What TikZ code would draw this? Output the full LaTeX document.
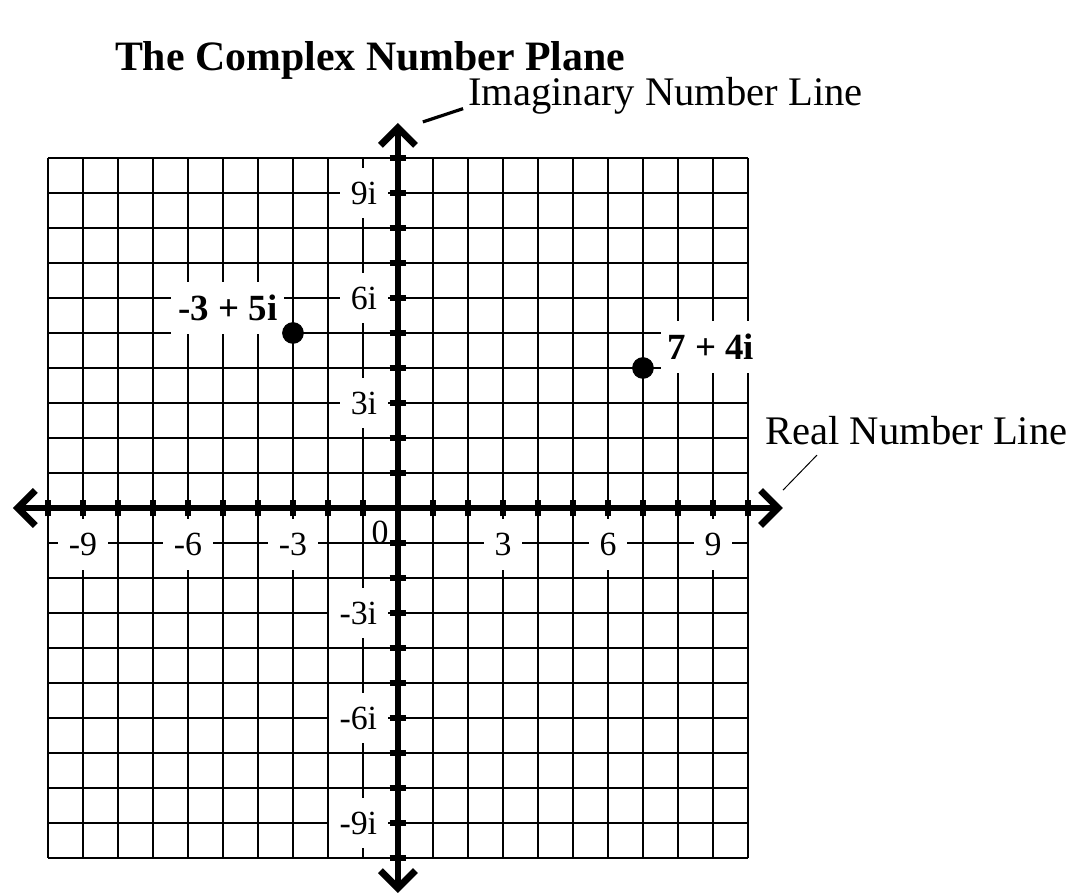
\documentclass[tikz,border=0pt]{standalone}
\usepackage{fontspec}
\setmainfont{Liberation Serif}
\usetikzlibrary{arrows.meta,positioning}

\begin{document}
\begin{tikzpicture}[
    gridline/.style={line width=1.1pt},
    barb/.tip={Straight Barb[length=5mm,width=10mm,line cap=butt,line join=miter]},
    axisline/.style={line width=5.6pt, barb-barb},
    tickmark/.style={line width=4.8pt},
    ticklabel/.style={fill=white, inner xsep=0.3cm, minimum height=1.45cm, font=\fontsize{27.5}{30}\selectfont},
    ptlabel/.style={fill=white, inner xsep=0.2cm, minimum height=1.5cm, font=\fontsize{30}{34}\selectfont\bfseries},
    axislabel/.style={inner sep=0pt, font=\fontsize{33}{38}\selectfont},
    dot/.style={fill=black, circle, inner sep=0pt, minimum size=0.62cm}
]
    \useasboundingbox (-11.371,-11.057) rectangle (19.486,14.514);

    % Title
    \node[anchor=base west, inner sep=0pt, font=\fontsize{34}{40}\selectfont\bfseries] (title) at (-8.09,12.51) {The Complex Number Plane};

    % Grid
    \draw[gridline] (-10,-10) grid (10,10);

    % Tick labels
    \foreach \x/\t in {-9/-9, -6/-6, -3/-3, 3/3, 6/6, 9/9}
        \node[ticklabel] (xl\x) at (\x,-1.05) {\t};
    \foreach \y/\t in {9/9i, 6/6i, 3/3i, -3/-3i, -6/-6i, -9/-9i}
        \node[ticklabel, anchor=east] (yl\y) at (-0.29,\y) {\t};
    \node[inner sep=0pt, font=\fontsize{27.5}{30}\selectfont] (zero) at (-0.51,-0.69) {0};

    % Point labels
    \node[ptlabel] (lbla) at (-4.86,5.71) {-3 + 5i};
    \node[ptlabel] (lblb) at (8.94,4.6) {7 + 4i};

    % Axes
    \draw[axisline] (-11,0) -- (11,0);
    \draw[axisline] (0,-11) -- (0,11);
    \foreach \i in {-10,...,-1,1,2,...,10} {
        \draw[tickmark] (\i,-0.24) -- (\i,0.24);
        \draw[tickmark] (-0.24,\i) -- (0.24,\i);
    }

    % Points
    \node[dot] (pa) at (-3,5) {};
    \node[dot] (pb) at (7,4) {};

    % Axis names
    \node[axislabel, anchor=base west] (imlbl) at (2.0,11.51) {Imaginary Number Line};
    \node[axislabel, anchor=base west] (relbl) at (10.49,1.8) {Real Number Line};
    \coordinate (imtip) at (0.71,11.03);
    \coordinate (imend) at (1.86,11.41);
    \coordinate (retip) at (11.0,0.51);
    \coordinate (reend) at (11.97,1.51);
    \draw[line width=2.6pt] (imtip) -- (imend);
    \draw[line width=0.8pt] (retip) -- (reend);

\end{tikzpicture}
\end{document}
